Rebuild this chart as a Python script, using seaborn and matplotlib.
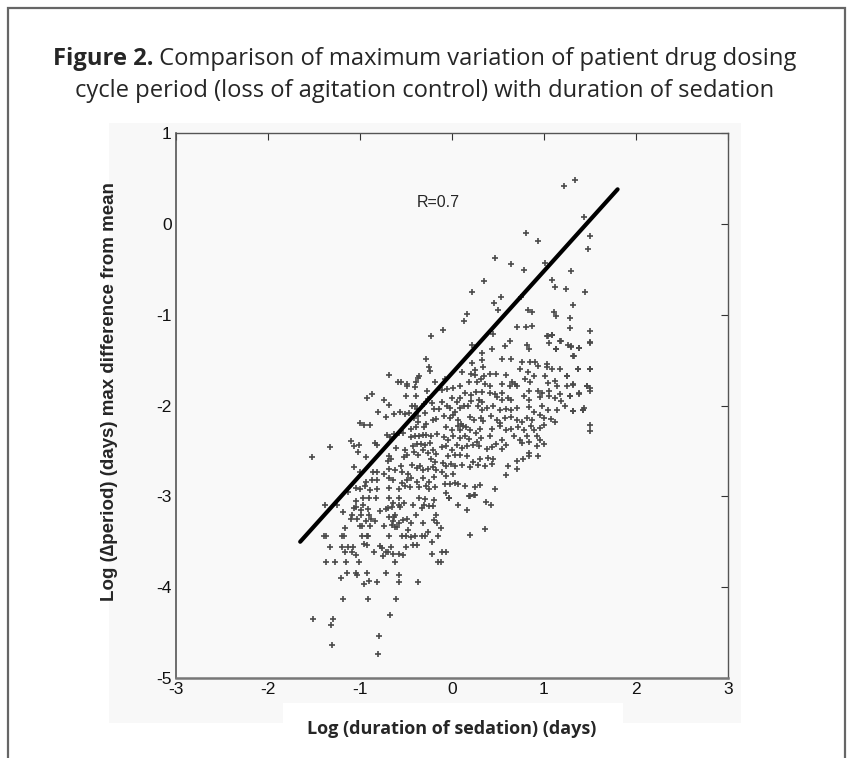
import numpy as np
import pandas as pd
import matplotlib
matplotlib.use("Agg")
import matplotlib.pyplot as plt
from matplotlib import font_manager
from matplotlib.patches import Rectangle
import seaborn as sns

# (log duration of sedation, log max delta period), by region
pts_upper = [
    (1.22, 0.42), (1.34, 0.48), (1.43, 0.08), (1.50, -0.13), (1.48, -0.28),
    (0.80, -0.10), (0.94, -0.19), (0.47, -0.38), (0.64, -0.44), (0.78, -0.51),
    (1.01, -0.43), (1.29, -0.52), (0.35, -0.63), (1.09, -0.62), (1.12, -0.69),
    (1.24, -0.72), (1.45, -0.75), (0.22, -0.75), (0.53, -0.81), (0.46, -0.87),
    (0.75, -0.80), (0.50, -0.95), (0.83, -0.95), (0.87, -0.97), (1.11, -0.97),
    (1.13, -1.02), (1.31, -0.89), (1.28, -1.04), (0.16, -0.99), (0.13, -1.07),
    (-0.10, -1.17), (0.71, -1.14), (0.80, -1.14), (0.87, -1.13), (1.28, -1.15),
    (1.50, -1.18), (1.04, -1.24), (1.09, -1.22), (0.45, -1.21), (1.50, -1.30),
    (1.50, -1.60), (1.47, -1.78), (1.50, -1.84), (1.42, -2.05), (1.38, -1.87),
    (1.37, -1.60), (1.38, -1.37), (1.29, -1.35), (1.33, -1.46), (1.32, -1.77),
    (1.31, -2.06), (1.18, -1.29), (1.13, -1.38), (1.25, -1.67), (1.28, -1.90),
]

pts_core_left = [
    (-0.23, -1.24), (-0.28, -1.49), (-0.25, -1.58), (-0.24, -1.62), (-0.68, -1.66),
    (-0.59, -1.74), (-0.55, -1.74), (-0.49, -1.76), (-0.49, -1.79), (-0.39, -1.74),
    (-0.37, -1.70), (-0.36, -1.68), (-0.40, -1.80), (-0.27, -1.84), (-0.19, -1.74),
    (-0.50, -1.89), (-0.39, -1.89), (-0.87, -1.87), (-0.92, -1.92), (-0.74, -1.94),
    (-0.68, -1.99), (-0.26, -1.93), (-0.43, -2.01), (-0.40, -2.01), (-0.38, -2.04),
    (-0.30, -1.98), (-0.22, -1.97), (-0.80, -2.07), (-0.72, -2.13), (-0.63, -2.09),
    (-0.57, -2.07), (-0.51, -2.09), (-0.47, -2.08), (-0.41, -2.14), (-0.37, -2.12),
    (-0.29, -2.08), (-0.20, -2.04), (-0.14, -2.04), (-1.00, -2.19), (-0.96, -2.22),
    (-0.89, -2.22), (-0.37, -2.18), (-0.28, -2.20), (-0.21, -2.16), (-0.17, -2.15),
    (-0.39, -2.24), (-0.30, -2.24), (-0.45, -2.26), (-0.71, -2.33), (-0.67, -2.35),
    (-0.63, -2.31), (-0.58, -2.30), (-0.53, -2.30), (-0.45, -2.35), (-0.40, -2.34),
    (-0.36, -2.34), (-0.32, -2.33), (-0.28, -2.33), (-0.23, -2.34), (-0.16, -2.31),
    (-1.10, -2.39), (-1.07, -2.45), (-1.01, -2.44), (-0.84, -2.41), (-0.81, -2.44),
    (-1.33, -2.46), (-1.52, -2.57), (-1.02, -2.51), (-0.93, -2.57), (-0.68, -2.56),
    (-0.66, -2.59), (-0.70, -2.61), (-0.61, -2.47), (-0.51, -2.49), (-0.49, -2.54),
    (-0.52, -2.57), (-0.42, -2.45), (-0.38, -2.42), (-0.34, -2.42), (-0.29, -2.44),
    (-0.24, -2.41), (-0.41, -2.51), (-0.37, -2.54), (-0.32, -2.49), (-0.26, -2.52),
    (-0.21, -2.49), (-0.17, -2.53), (-0.23, -2.59), (-0.18, -2.62), (-1.07, -2.68),
    (-1.00, -2.73), (-0.86, -2.73), (-0.82, -2.73), (-0.74, -2.75), (-0.68, -2.70),
    (-0.62, -2.71), (-0.55, -2.67), (-0.54, -2.73), (-0.48, -2.75), (-0.43, -2.65),
    (-0.38, -2.69), (-0.35, -2.67), (-0.31, -2.71), (-0.26, -2.70), (-0.21, -2.68),
    (-0.17, -2.71), (-0.93, -2.84), (-0.87, -2.82), (-0.82, -2.82), (-0.69, -2.80),
    (-0.64, -2.82), (-0.54, -2.85), (-0.49, -2.82), (-0.45, -2.80), (-0.38, -2.84),
    (-0.31, -2.80), (-0.25, -2.84), (-0.20, -2.79), (-1.04, -2.91), (-1.00, -2.92),
    (-0.95, -2.89), (-0.89, -2.93), (-0.82, -2.92), (-0.69, -2.91), (-0.58, -2.92),
    (-0.51, -2.89), (-0.46, -2.90), (-0.36, -2.90), (-0.28, -2.89), (-0.25, -2.92),
    (-0.18, -2.90), (-1.13, -2.95),
]

pts_core_right = [
    (0.63, -1.29), (0.58, -1.35), (0.44, -1.38), (0.33, -1.42), (0.22, -1.33),
    (0.82, -1.33), (0.84, -1.38), (1.03, -1.24), (1.09, -1.22), (1.05, -1.31),
    (1.17, -1.29), (1.13, -1.38), (1.26, -1.33), (1.29, -1.36), (1.38, -1.37),
    (1.50, -1.31), (1.32, -1.46), (0.54, -1.49), (0.64, -1.49), (0.33, -1.50),
    (0.22, -1.53), (0.76, -1.52), (0.85, -1.52), (0.90, -1.52), (0.94, -1.57),
    (1.03, -1.54), (1.03, -1.58), (1.09, -1.60), (1.17, -1.60), (1.37, -1.60),
    (1.50, -1.60), (1.25, -1.67), (0.11, -1.63), (0.21, -1.65), (0.25, -1.61),
    (0.25, -1.66), (0.34, -1.58), (0.35, -1.67), (0.41, -1.65), (0.48, -1.65),
    (0.59, -1.66), (0.74, -1.60), (0.83, -1.63), (0.89, -1.67), (1.01, -1.67),
    (-0.08, -1.71), (-0.05, -1.82), (0.09, -1.78), (0.19, -1.74), (0.27, -1.74),
    (0.32, -1.71), (0.36, -1.76), (0.41, -1.78), (0.54, -1.76), (0.65, -1.74),
    (0.68, -1.76), (0.71, -1.79), (0.63, -1.79), (0.79, -1.71), (0.85, -1.74),
    (1.04, -1.75), (1.12, -1.73), (1.14, -1.78), (1.25, -1.78), (1.32, -1.76),
    (1.47, -1.78), (1.50, -1.81), (0.14, -1.86), (0.21, -1.88), (0.26, -1.85),
    (0.33, -1.85), (0.41, -1.86), (0.47, -1.87), (0.54, -1.86), (0.84, -1.84),
    (0.94, -1.84), (0.98, -1.86), (1.05, -1.84), (1.17, -1.87), (1.38, -1.86),
    (0.00, -1.92), (0.05, -1.96), (0.09, -1.92), (0.21, -1.95), (0.29, -1.94),
    (0.33, -1.96), (0.49, -1.91), (0.54, -1.94), (0.61, -1.92), (0.64, -1.94),
    (0.78, -1.90), (0.84, -1.94), (0.96, -1.91), (1.05, -1.90), (1.12, -1.92),
    (1.19, -1.95), (1.28, -1.90), (-0.11, -1.96), (-0.05, -2.00), (-0.02, -2.03),
    (0.03, -2.07), (0.09, -2.03), (0.13, -2.00), (0.17, -2.01), (0.28, -2.00),
    (0.33, -2.05), (0.38, -2.03), (0.45, -2.01), (0.52, -2.05), (0.59, -2.04),
    (0.64, -2.05), (0.71, -2.03), (0.84, -2.02), (0.89, -2.07), (0.98, -2.01),
    (1.04, -2.05), (1.14, -2.05), (1.23, -2.01), (1.31, -2.06), (1.42, -2.05),
    (1.43, -2.03), (-0.09, -2.12), (-0.02, -2.14), (0.01, -2.11), (0.07, -2.16),
    (0.10, -2.20), (0.12, -2.23), (0.15, -2.24), (0.20, -2.13), (0.24, -2.16),
    (0.31, -2.14), (0.34, -2.17), (0.42, -2.12), (0.49, -2.16), (0.52, -2.19),
    (0.58, -2.14), (0.64, -2.13), (0.71, -2.16), (0.76, -2.18), (0.82, -2.14),
    (0.87, -2.16), (0.96, -2.11), (1.00, -2.14), (1.08, -2.15), (1.12, -2.18),
    (-0.06, -2.24), (0.00, -2.27), (0.06, -2.23), (0.09, -2.27), (0.20, -2.27),
    (0.26, -2.30), (0.30, -2.26), (0.43, -2.26), (0.52, -2.23), (0.59, -2.27),
    (0.64, -2.26), (0.72, -2.24), (0.78, -2.27), (0.86, -2.23), (0.89, -2.27),
    (0.96, -2.25), (1.00, -2.22), (1.50, -2.21), (1.50, -2.28), (-0.09, -2.35),
    (-0.04, -2.38), (0.01, -2.34), (0.09, -2.36), (0.14, -2.34), (0.18, -2.37),
    (0.27, -2.40), (0.32, -2.36), (0.41, -2.34), (0.48, -2.42), (0.54, -2.38),
    (0.59, -2.44), (0.67, -2.34), (0.74, -2.38), (0.81, -2.34), (0.92, -2.34),
    (0.96, -2.38), (-0.11, -2.46), (-0.06, -2.45), (0.00, -2.49), (0.05, -2.44),
    (0.11, -2.47), (0.16, -2.45), (0.23, -2.44), (0.29, -2.45), (0.38, -2.48),
    (0.44, -2.46), (0.54, -2.48), (0.76, -2.41), (0.84, -2.40), (0.92, -2.45),
    (1.00, -2.42), (-0.04, -2.56), (0.03, -2.55), (0.09, -2.54), (0.16, -2.56),
    (0.23, -2.62), (0.30, -2.59), (0.39, -2.58), (0.45, -2.59), (0.71, -2.61),
    (0.77, -2.59), (0.84, -2.56), (0.93, -2.56), (0.84, -2.52), (-0.10, -2.63),
    (-0.06, -2.67), (-0.01, -2.64), (0.03, -2.67), (0.11, -2.66), (0.20, -2.68),
    (0.28, -2.66), (0.36, -2.67), (0.43, -2.64), (0.61, -2.67), (0.71, -2.70),
    (-0.11, -2.73), (-0.06, -2.78), (0.01, -2.75), (0.59, -2.76), (-0.08, -2.86),
    (-0.02, -2.86), (0.03, -2.85), (0.07, -2.86), (0.14, -2.89), (0.25, -2.90),
    (0.30, -2.88), (0.47, -2.92), (-0.07, -2.96), (-0.03, -3.02), (0.20, -3.00),
    (0.24, -2.98), (-0.11, -1.83), (0.01, -1.81),
]

pts_lower = [
    (-1.51, -4.35), (-1.29, -4.35), (-1.31, -4.42), (-1.30, -4.64), (-0.79, -4.54),
    (-0.80, -4.74), (-0.67, -4.31), (-1.19, -4.13), (-0.91, -4.13), (-0.61, -4.13),
    (-1.21, -3.90), (-1.14, -3.84), (-1.04, -3.84), (-1.03, -3.87), (-0.92, -3.84),
    (-0.90, -3.93), (-0.96, -3.97), (-0.82, -3.94), (-0.72, -3.84), (-0.58, -3.87),
    (-0.58, -3.94), (-0.37, -3.94), (-1.37, -3.72), (-1.27, -3.72), (-1.15, -3.72),
    (-1.01, -3.72), (-0.62, -3.72), (-1.33, -3.56), (-1.20, -3.56), (-1.13, -3.56),
    (-1.08, -3.56), (-1.16, -3.61), (-1.09, -3.61), (-1.04, -3.65), (-0.96, -3.52),
    (-0.92, -3.54), (-0.85, -3.61), (-0.78, -3.55), (-0.76, -3.57), (-0.72, -3.61),
    (-0.70, -3.61), (-0.75, -3.66), (-0.66, -3.56), (-0.64, -3.64), (-0.58, -3.64),
    (-0.53, -3.65), (-0.50, -3.56), (-0.42, -3.54), (-0.38, -3.54), (-0.22, -3.64),
    (-0.22, -3.50), (-0.15, -3.72), (-1.39, -3.44), (-1.37, -3.44), (-1.20, -3.44),
    (-1.17, -3.44), (-0.98, -3.44), (-0.92, -3.44), (-0.91, -3.44), (-0.69, -3.44),
    (-0.54, -3.44), (-0.50, -3.44), (-0.45, -3.45), (-0.40, -3.44), (-0.33, -3.44),
    (-0.29, -3.44), (-0.26, -3.39), (-0.15, -3.44), (-1.16, -3.35), (-1.00, -3.33),
    (-0.98, -3.33), (-0.89, -3.33), (-0.74, -3.33), (-0.65, -3.32), (-0.62, -3.34),
    (-0.60, -3.34), (-0.48, -3.37), (-0.58, -3.29), (-0.69, -3.23), (-0.63, -3.23),
    (-0.45, -3.29), (-0.53, -3.26), (-0.49, -3.25), (-0.39, -3.21), (-0.32, -3.29),
    (-0.20, -3.26), (-0.17, -3.21), (-1.09, -3.20), (-1.10, -3.25), (-1.03, -3.25),
    (-0.99, -3.21), (-0.90, -3.21), (-0.88, -3.25), (-0.94, -3.27), (-0.84, -3.27),
    (-0.78, -3.16), (-0.72, -3.14), (-0.62, -3.21), (-0.64, -3.27), (-1.07, -3.13),
    (-1.04, -3.12), (-0.99, -3.15), (-0.97, -3.10), (-0.91, -3.14), (-1.19, -3.17),
    (-1.38, -3.10), (-1.25, -3.10), (-0.70, -3.13), (-0.65, -3.12), (-0.58, -3.10),
    (-0.56, -3.12), (-0.52, -3.07), (-0.42, -3.10), (-0.33, -3.13), (-0.30, -3.09),
    (-0.36, -3.02), (-0.29, -3.03), (-0.25, -3.11), (-0.21, -3.11), (-0.20, -3.04),
    (-1.04, -3.05), (-0.97, -3.02), (-0.90, -3.02), (-0.83, -3.02), (-0.68, -3.02),
    (-0.64, -3.07), (-0.58, -3.02), (-0.16, -3.29), (-0.03, -3.02), (0.19, -3.00),
    (0.25, -2.99), (0.37, -3.06), (0.42, -3.09), (0.06, -3.09), (0.16, -3.15),
    (-0.12, -3.35), (0.20, -3.43), (0.36, -3.36), (-0.11, -3.61), (-0.07, -3.61),
    (-0.12, -3.72),
]

# regression line end points
fit_x = [-1.65, 1.8]
fit_y = [-3.5, 0.38]

x_ticks = [-3, -2, -1, 0, 1, 2, 3]
y_ticks = [1, 0, -1, -2, -3, -4, -5]

all_pts = pts_upper + pts_core_left + pts_core_right + pts_lower
df = pd.DataFrame(all_pts, columns=["log_sed", "log_dperiod"])

sns.set_theme(style="white")
plt.rcParams["font.family"] = ["Liberation Sans", "DejaVu Sans"]
plt.rcParams["axes.unicode_minus"] = False

installed = {f.name for f in font_manager.fontManager.ttflist}
title_font = "Liberation Sans Narrow" if "Liberation Sans Narrow" in installed else "Open Sans"

W, H = 849, 758
fig = plt.figure(figsize=(W / 100, H / 100), dpi=100)
fig.patch.set_facecolor("white")

# faint matlab figure background behind the axes, white patch under xlabel
fig.patches.append(Rectangle((109 / W, 1 - 723 / H), 632 / W, 600 / H,
                             transform=fig.transFigure, facecolor="#f8f8f8",
                             edgecolor="none", zorder=-2))
fig.patches.append(Rectangle((283 / W, 0), 340 / W, 1 - 703 / H,
                             transform=fig.transFigure, facecolor="white",
                             edgecolor="none", zorder=-1))

ax = fig.add_axes([176 / W, 1 - 678 / H, 552 / W, 545 / H])
ax.set_zorder(1)
ax.set_facecolor("#f9f9f9")

sns.scatterplot(data=df, x="log_sed", y="log_dperiod", marker="+", s=16,
                color="#4a4a4a", linewidth=1.2, ax=ax, legend=False)
sns.lineplot(x=fit_x, y=fit_y, color="black", linewidth=3, ax=ax)

ax.set_xlim(-3, 3)
ax.set_ylim(-5, 1)
ax.set_xticks(x_ticks)
ax.set_yticks(y_ticks)
ax.tick_params(direction="in", length=5, width=0.8, colors="#333333",
               labelsize=12.5, top=True, right=True, labeltop=False, labelright=False,
               pad=3)
ax.tick_params(axis="both", labelcolor="#111111")
for s in ax.spines.values():
    s.set_visible(True)
    s.set_color("#555555")
    s.set_linewidth(1.0)
ax.spines["bottom"].set_linewidth(1.8)
ax.spines["bottom"].set_color("#777777")
ax.spines["left"].set_linewidth(1.2)

ax.text(-0.38, 0.23, "R=0.7", fontsize=11.5, ha="left", va="center")

ax.set_xlabel("Log (duration of sedation) (days)", family="Open Sans",
              fontweight="bold", fontsize=13, va="center")
ax.xaxis.set_label_coords(0.5, (678 - 729) / 545)
ax.set_ylabel("Log (\u2206period) (days) max difference from mean",
              fontweight="bold", fontsize=13.5, va="center")
ax.yaxis.set_label_coords((109 - 176) / 552, (678 - 392) / 545)

# title: bold "Figure 2." followed by regular text, fitted to the reference width
renderer = fig.canvas.get_renderer()
base = 20
t_bold = fig.text(0, 1 - 65 / H, "Figure 2.", family=title_font,
                  fontweight="bold", fontsize=base, va="baseline")
t_rest = fig.text(0, 1 - 65 / H, " Comparison of maximum variation of patient drug dosing",
                  family=title_font, fontsize=base, va="baseline")
w_total = t_bold.get_window_extent(renderer).width + t_rest.get_window_extent(renderer).width
size = base * 740 / w_total
t_bold.set_fontsize(size)
t_rest.set_fontsize(size)
wb = t_bold.get_window_extent(renderer).width
wr = t_rest.get_window_extent(renderer).width
x0 = (W - wb - wr) / 2
t_bold.set_x(x0 / W)
t_rest.set_x((x0 + wb) / W)
fig.text(0.5, 1 - 97 / H, "cycle period (loss of agitation control) with duration of sedation",
         family=title_font, fontsize=size, ha="center", va="baseline")

fig.patches.append(Rectangle((8 / W, -0.02), 837 / W, 1.0 - 8 / H + 0.02,
                             transform=fig.transFigure, fill=False,
                             edgecolor="#666666", linewidth=1.6, zorder=5))

fig.savefig("out.png", dpi=100)
